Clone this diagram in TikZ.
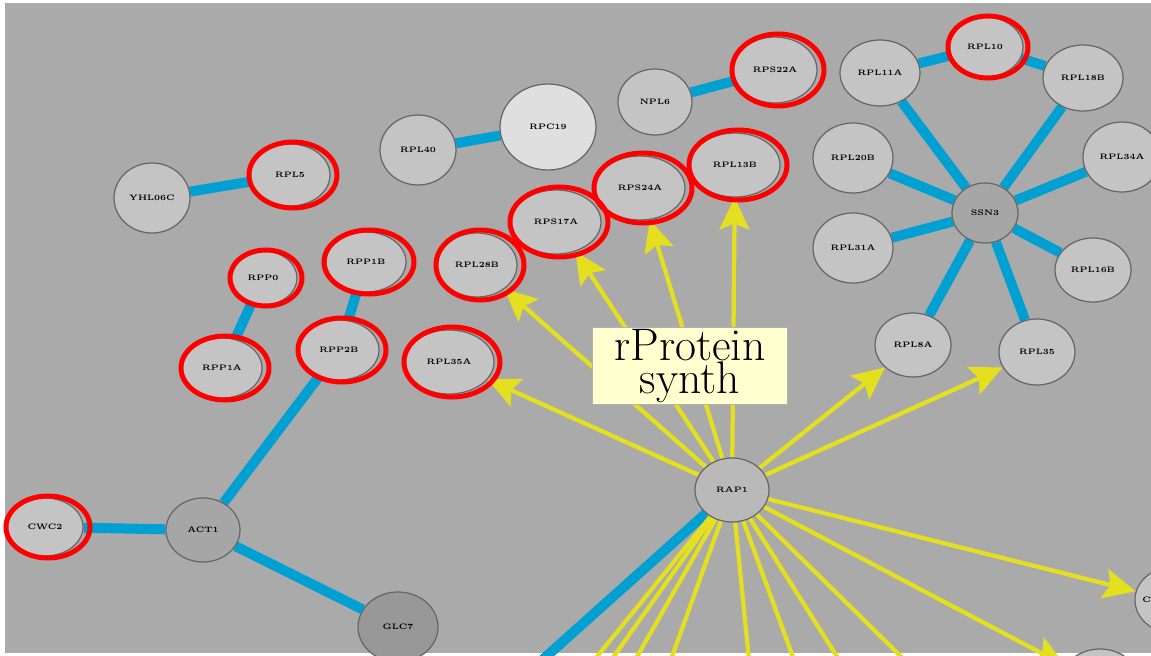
\documentclass[tikz,border=0pt]{standalone}
\usetikzlibrary{shapes.geometric,arrows.meta,backgrounds}

\definecolor{bgray}{RGB}{170,170,170}
\definecolor{nodefill}{RGB}{196,196,196}
\definecolor{hubfill}{RGB}{166,166,166}
\definecolor{darkfill}{RGB}{152,152,152}
\definecolor{linkblue}{RGB}{0,160,210}
\definecolor{actyellow}{RGB}{228,224,32}
\definecolor{notefill}{RGB}{255,255,208}

\tikzset{
  gene/.style={ellipse,draw=gray!80!black,fill=nodefill,line width=0.7pt,inner sep=0pt,
    font=\fontsize{4.5}{5}\selectfont\bfseries},
  sz/.style 2 args={minimum width=#1*0.2mm,minimum height=#2*0.2mm},
  hub/.style={gene,fill=hubfill},
  link/.style={draw=linkblue,line width=2mm},
  act/.style={draw=actyellow,line width=0.85mm,-{Stealth[length=6.4mm,width=6mm,inset=1.2mm]}},
  actline/.style={draw=actyellow,line width=0.85mm},
  ring/.style={draw=red,line width=1mm},
  note/.style={rectangle,draw=gray!60,fill=notefill,align=center,inner sep=0pt,
    minimum width=39mm,minimum height=15.4mm,font=\fontsize{26}{18.6}\selectfont}
}

\begin{document}
\begin{tikzpicture}[x=0.2mm,y=-0.2mm]
\useasboundingbox (0,0) rectangle (1151,656);
\clip (0,0) rectangle (1151,656);

% nodes
\node[gene,sz={76}{70}] (yhl) at (152,198) {YHL06C};
\node[gene,sz={80}{62}] (rpl5) at (290,175) {RPL5};
\node[gene,sz={76}{70}] (rpl40) at (418,150) {RPL40};
\node[gene,sz={96}{86},fill=gray!25] (rpc19) at (548,127) {RPC19};
\node[gene,sz={74}{66}] (npl6) at (655,102) {NPL6};
\node[gene,sz={84}{66}] (rps22a) at (775,70) {RPS22A};
\node[gene,sz={80}{66}] (rpl11a) at (880,73) {RPL11A};
\node[gene,sz={76}{60}] (rpl10) at (985,47) {RPL10};
\node[gene,sz={80}{66}] (rpl18b) at (1083,78) {RPL18B};
\node[gene,sz={80}{70}] (rpl20b) at (853,158) {RPL20B};
\node[gene,sz={78}{70}] (rpl34a) at (1122,157) {RPL34A};
\node[hub,sz={66}{60}] (ssn3) at (985,213) {SSN3};
\node[gene,sz={80}{70}] (rpl31a) at (853,248) {RPL31A};
\node[gene,sz={76}{64}] (rpl16b) at (1093,270) {RPL16B};
\node[gene,sz={76}{64}] (rpl8a) at (913,345) {RPL8A};
\node[gene,sz={76}{66}] (rpl35) at (1037,352) {RPL35};
\node[gene,sz={90}{64}] (rpl13b) at (735,165) {RPL13B};
\node[gene,sz={90}{64}] (rps24a) at (640,188) {RPS24A};
\node[gene,sz={90}{64}] (rps17a) at (556,222) {RPS17A};
\node[gene,sz={80}{64}] (rpl28b) at (477,265) {RPL28B};
\node[gene,sz={68}{54}] (rpp0) at (263,278) {RPP0};
\node[gene,sz={80}{60}] (rpp1b) at (366,262) {RPP1B};
\node[gene,sz={80}{60}] (rpp1a) at (222,368) {RPP1A};
\node[gene,sz={80}{60}] (rpp2b) at (339,350) {RPP2B};
\node[gene,sz={90}{64}] (rpl35a) at (449,362) {RPL35A};
\node[gene,sz={76}{58}] (cwc2) at (45,527) {CWC2};
\node[hub,sz={74}{64}] (act1) at (203,530) {ACT1};
\node[gene,fill=darkfill,sz={80}{70}] (glc7) at (398,627) {GLC7};
\node[gene,fill=gray!55,sz={74}{64}] (rap1) at (732,490) {RAP1};
\node[gene,sz={70}{64}] (cka1) at (1170,600) {};
\node[gene,sz={80}{70}] (rpl2b) at (1100,684) {};
\node[font=\fontsize{4.5}{5}\selectfont\bfseries,anchor=west,inner sep=0pt] (ckatext) at (1142,600) {C};

\node[note] (topic) at (690,366) {rProtein\\synth};

% red rings on the hits
\foreach \n/\a/\b in {rpl5/44/33,rps22a/46/36,rpl10/40/31,rpl13b/49/35,rps24a/49/35,
  rps17a/49/35,rpl28b/44/35,rpp0/36/28,rpp1b/45/32,rpp1a/44/32,rpp2b/44/32,
  rpl35a/48/35,cwc2/42/31}
  \draw[ring] ([xshift=0.6mm]\n.center) ellipse [x radius=\a, y radius=\b];

\begin{scope}[on background layer]
\fill[white] (0,0) rectangle (1151,656);
\fill[bgray] (5,3) rectangle (1151,653);

% physical links
\draw[link] (yhl) -- (rpl5);
\draw[link] (rpl40) -- (rpc19);
\draw[link] (npl6) -- (rps22a);
\draw[link] (rpl11a) -- (rpl10) -- (rpl18b);
\foreach \t in {rpl11a,rpl18b,rpl20b,rpl34a,rpl31a,rpl16b,rpl8a,rpl35}
  \draw[link] (ssn3) -- (\t);
\draw[link] (rpp0) -- (rpp1a);
\draw[link] (rpp1b) -- (rpp2b) -- (act1);
\draw[link] (cwc2) -- (act1) -- (glc7);
\coordinate (offbl) at (520,680);
\draw[link] (rap1) -- (offbl);

% regulation
\foreach \t in {rpl35a,rpl28b,rps17a,rps24a,rpl13b,rpl8a,rpl35,cka1,rpl2b}
  \draw[act] (rap1) -- (\t);
\foreach \x in {570,590,618,660,752,805,858,935}
  \draw[actline] (rap1) -- (\x,690);
\end{scope}
\end{tikzpicture}
\end{document}
